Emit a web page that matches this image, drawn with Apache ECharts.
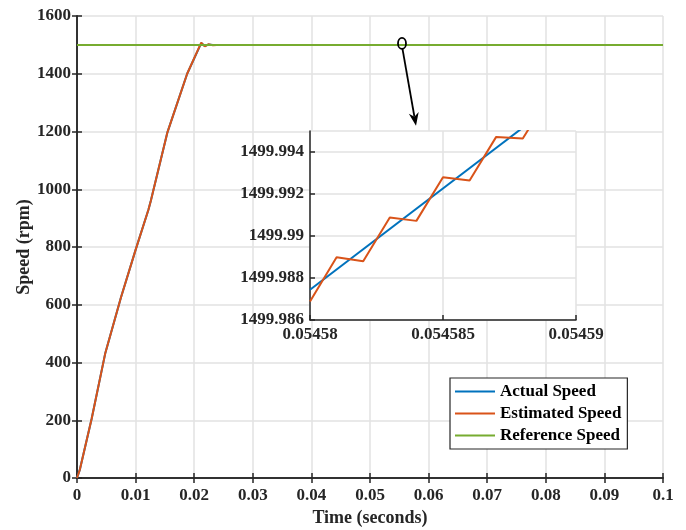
<!DOCTYPE html>
<html><head><meta charset="utf-8">
<script src="https://cdn.jsdelivr.net/npm/echarts@6/dist/echarts.min.js"></script>
<style>html,body{margin:0;padding:0;background:#fff}#c{width:686px;height:530px}</style>
</head><body><div id="c"></div>
<script>
// ---- data ----
const mainTime        = [0, 0.0005, 0.0025, 0.0048, 0.0075, 0.0100, 0.0122, 0.0126, 0.0154, 0.0188, 0.0212, 0.0218, 0.0224, 0.0232, 0.0245, 0.1];
const actualSpeed     = [0, 30, 205, 430, 625, 790, 930, 960, 1195, 1400, 1506, 1496, 1501, 1499.5, 1500, 1500];
const estimatedSpeed  = [0, 30, 205, 430, 625, 790, 930, 960, 1195, 1400, 1508, 1495, 1502, 1499, 1500, 1500];
const refTime         = [0, 0.1];
const refSpeed        = [1500, 1500];

const insetEstTime    = [0.05458, 0.054581, 0.054582, 0.054583, 0.054584, 0.054585, 0.054586, 0.054587, 0.054588, 0.054589];
const insetEstSpeed   = [1499.98688, 1499.98899, 1499.98880, 1499.99088, 1499.99072, 1499.99280, 1499.99264, 1499.99472, 1499.99464, 1499.99670];
const insetActTime    = [0.05458, 0.05459];
const insetActSpeed   = [1499.98744, 1499.99709];

const mainXTickLabels  = ['0','0.01','0.02','0.03','0.04','0.05','0.06','0.07','0.08','0.09','0.1'];
const mainYTickLabels  = ['0','200','400','600','800','1000','1200','1400','1600'];
const insetXTickLabels = ['0.05458','0.054585','0.05459'];
const insetYTickLabels = ['1499.986','1499.988','1499.99','1499.992','1499.994'];

const seriesNames = ['Actual Speed','Estimated Speed','Reference Speed'];
const colors = ['#0072BD','#D95319','#77AC30'];

const calloutPoint = [0.05546, 1505];
const arrowTip     = [0.05785, 1220];

// ---- helpers ----
const zip = (a,b) => a.map((v,i)=>[v,b[i]]);
const FONT = 'Liberation Serif';
const AX = '#262626';
const GRIDC = '#e2e2e2';
function labelBy(arr, min, step){
  return v => { const i = Math.round((v-min)/step); const d = Math.abs(v-(min+i*step)); return (d < step*1e-3 && arr[i] !== undefined) ? arr[i] : ''; };
}
const lbl = {fontFamily: FONT, fontWeight: 'bold', fontSize: 17, color: AX};

const chart = echarts.init(document.getElementById('c'), null, {renderer:'canvas'});
const option = {
  animation: false,
  backgroundColor: '#fff',
  grid: [
    {left: 77, top: 16, right: 23, bottom: 52, containLabel: false, outerBoundsMode: 'none'},
    {left: 310, top: 131, right: 110, bottom: 210, show: true, backgroundColor: '#fff', borderWidth: 0, z: 5, containLabel: false, outerBoundsMode: 'none'}
  ],
  xAxis: [
    {gridIndex:0, type:'value', min:0, max:0.1, interval:0.01, position:'bottom',
     name:'Time (seconds)', nameLocation:'middle', nameGap:31, nameMoveOverlap:false,
     nameTextStyle:{fontFamily:FONT, fontWeight:'bold', fontSize:18, color:AX},
     axisLine:{show:true, lineStyle:{color:AX, width:1.5}},
     axisTick:{show:true, inside:true, length:5, lineStyle:{color:AX, width:1.5}},
     axisLabel:Object.assign({margin:9, formatter: labelBy(mainXTickLabels,0,0.01)}, lbl),
     splitLine:{show:true, lineStyle:{color:GRIDC, width:1.5}}},
    {gridIndex:0, type:'value', min:0, max:0.1, interval:0.01, position:'top',
     axisLine:{show:true, lineStyle:{color:AX, width:1.5}},
     axisTick:{show:true, inside:true, length:5, lineStyle:{color:AX, width:1.5}},
     axisLabel:{show:false}, splitLine:{show:false}},
    {gridIndex:1, type:'value', min:0.05458, max:0.05459, interval:0.000005, z:6,
     axisLine:{show:true, lineStyle:{color:AX, width:1.5}},
     axisTick:{show:true, inside:true, length:5, lineStyle:{color:AX, width:1.5}},
     axisLabel:Object.assign({margin:6, formatter: labelBy(insetXTickLabels,0.05458,0.000005)}, lbl),
     splitLine:{show:true, lineStyle:{color:GRIDC, width:1.5}}}
  ],
  yAxis: [
    {gridIndex:0, type:'value', min:0, max:1600, interval:200, position:'left',
     name:'Speed (rpm)', nameLocation:'middle', nameGap:44, nameMoveOverlap:false,
     nameTextStyle:{fontFamily:FONT, fontWeight:'bold', fontSize:18, color:AX},
     axisLine:{show:true, lineStyle:{color:AX, width:1.5}},
     axisTick:{show:true, inside:true, length:5, lineStyle:{color:AX, width:1.5}},
     axisLabel:Object.assign({margin:6, formatter: labelBy(mainYTickLabels,0,200)}, lbl),
     splitLine:{show:true, lineStyle:{color:GRIDC, width:1.5}}},
    {gridIndex:0, type:'value', min:0, max:1600, interval:200, position:'right',
     axisLine:{show:true, lineStyle:{color:AX, width:1.5}},
     axisTick:{show:true, inside:true, length:5, lineStyle:{color:AX, width:1.5}},
     axisLabel:{show:false}, splitLine:{show:false}},
    {gridIndex:1, type:'value', min:1499.986, max:1499.995, interval:0.002, z:6,
     axisLine:{show:true, lineStyle:{color:AX, width:1.5}},
     axisTick:{show:true, inside:true, length:5, lineStyle:{color:AX, width:1.5}},
     axisLabel:Object.assign({margin:6, showMaxLabel:false, formatter: labelBy(insetYTickLabels,1499.986,0.002)}, lbl),
     splitLine:{show:true, lineStyle:{color:GRIDC, width:1.5}}}
  ],
  legend: {
    orient:'vertical', left:450, top:378, padding:[5,6,5,5], itemGap:5,
    itemWidth:40, itemHeight:2, icon:'rect',
    backgroundColor:'#fff', borderColor:AX, borderWidth:1.2,
    textStyle:{fontFamily:FONT, fontWeight:'bold', fontSize:17, color:'#000'},
    data: seriesNames, selectedMode:false, z:10
  },
  series: [
    {name:seriesNames[0], type:'line', xAxisIndex:0, yAxisIndex:0, data:zip(mainTime, actualSpeed), symbol:'none', lineStyle:{color:colors[0], width:2}, itemStyle:{color:colors[0]}, z:2},
    {name:seriesNames[1], type:'line', xAxisIndex:0, yAxisIndex:0, data:zip(mainTime, estimatedSpeed), symbol:'none', lineStyle:{color:colors[1], width:2}, itemStyle:{color:colors[1]}, z:3},
    {name:seriesNames[2], type:'line', xAxisIndex:0, yAxisIndex:0, data:zip(refTime, refSpeed), symbol:'none', lineStyle:{color:colors[2], width:2}, itemStyle:{color:colors[2]}, z:4},
    {name:seriesNames[0], type:'line', xAxisIndex:2, yAxisIndex:2, data:zip(insetActTime, insetActSpeed), symbol:'none', clip:true, lineStyle:{color:colors[0], width:2}, itemStyle:{color:colors[0]}, z:7},
    {name:seriesNames[1], type:'line', xAxisIndex:2, yAxisIndex:2, data:zip(insetEstTime, insetEstSpeed), symbol:'none', clip:true, lineStyle:{color:colors[1], width:2}, itemStyle:{color:colors[1]}, z:8}
  ]
};
chart.setOption(option);

// annotation: circle + arrow
const c = chart.convertToPixel({xAxisIndex:0, yAxisIndex:0}, calloutPoint);
const t = chart.convertToPixel({xAxisIndex:0, yAxisIndex:0}, arrowTip);
const ry = 5.5, rx = 4;
const sx = c[0] + 0.5, sy = c[1] + ry;
const dx = t[0]-sx, dy = t[1]-sy, L = Math.hypot(dx,dy), ux = dx/L, uy = dy/L, px = -uy, py = ux;
const hl = 13, hw = 5;
const bx = t[0]-ux*hl, by = t[1]-uy*hl;
const nx = t[0]-ux*hl*0.7, ny = t[1]-uy*hl*0.7;
chart.setOption({graphic:[
  {type:'ellipse', shape:{cx:c[0], cy:c[1], rx:rx, ry:ry}, style:{fill:'none', stroke:'#000', lineWidth:1.8}, z:20},
  {type:'line', shape:{x1:sx, y1:sy, x2:nx, y2:ny}, style:{stroke:'#000', lineWidth:1.8}, z:20},
  {type:'polygon', shape:{points:[[t[0],t[1]],[bx+px*hw,by+py*hw],[nx,ny],[bx-px*hw,by-py*hw]]}, style:{fill:'#000'}, z:20}
]});
</script>
</body></html>
